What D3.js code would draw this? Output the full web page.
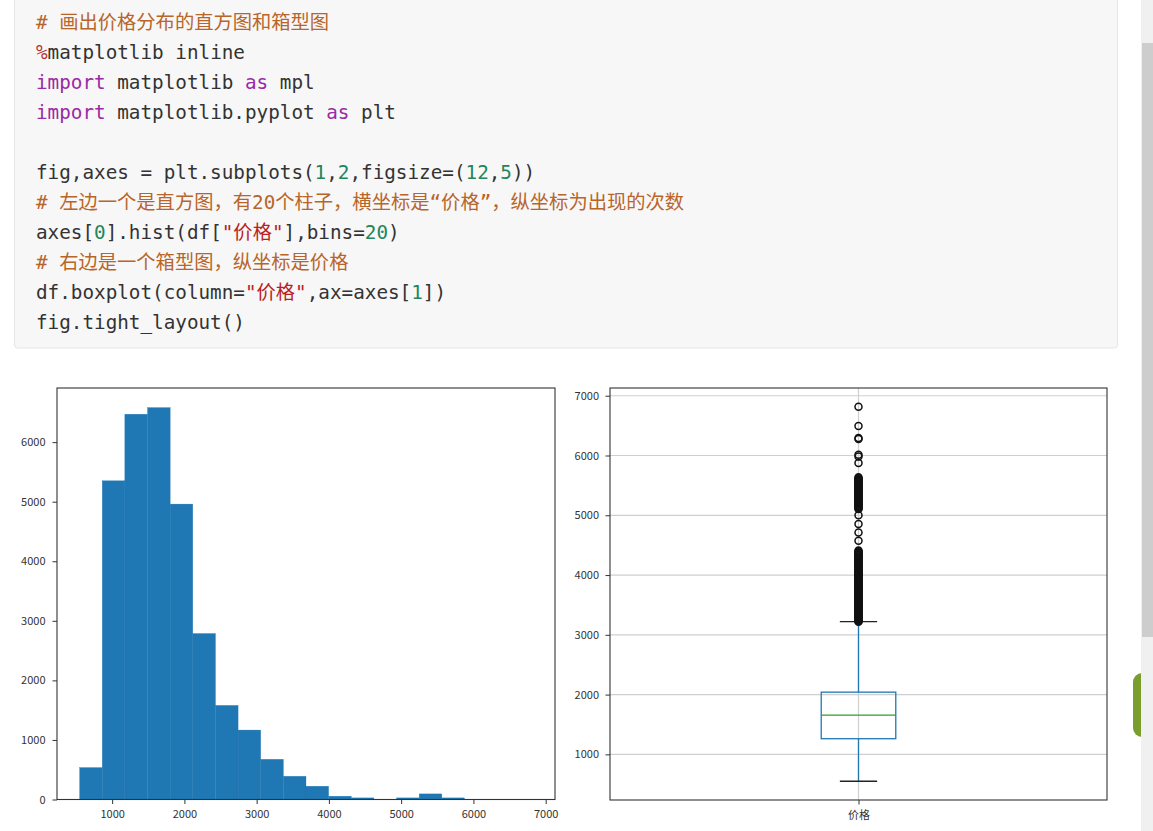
<!DOCTYPE html>
<html>
<head>
<meta charset="utf-8">
<script src="https://cdn.jsdelivr.net/npm/d3@7"></script>
<style>
  body { margin: 0; background: #fff; overflow: hidden; }
  svg { display: block; }
  .code text { font-family: "DejaVu Sans Mono", "Noto Sans CJK SC", monospace; font-size: 19.3px; white-space: pre; }
  .tick text { font-family: "Noto Sans CJK SC", "Liberation Sans", sans-serif; font-size: 11px; fill: #333; }
</style>
</head>
<body>
<script>
'use strict';

// histogram: 20 bins of 价格
const binEdges = [550, 863, 1176, 1490, 1803, 2116, 2430, 2743, 3056, 3370, 3683,
                  3996, 4310, 4623, 4936, 5250, 5563, 5876, 6189, 6503, 6816];
const binCounts = [536, 5351, 6469, 6580, 4960, 2787, 1580, 1166, 675, 390,
                   223, 55, 27, 0, 27, 94, 27, 3, 4, 2];
const histXTicks = [1000, 2000, 3000, 4000, 5000, 6000, 7000];
const histYTicks = [0, 1000, 2000, 3000, 4000, 5000, 6000];

// box plot of 价格
const boxLabel = "价格";
const boxQuartiles = [1262, 1657, 2041];   // q1, median, q3
const boxWhiskers = [550, 3220];           // low, high
const boxOutliers = [6816, 6494, 6293, 6275, 6014, 5985, 5875,
  5635, 5621, 5604, 5590, 5577, 5562, 5548, 5531, 5519, 5503, 5490, 5476, 5461, 5447, 5432, 5418, 5404, 5389,
  5375, 5362, 5347, 5333, 5318, 5305, 5290, 5276, 5262, 5247, 5233, 5219, 5204, 5190, 5176, 5161, 5147, 5133, 5119, 5107,
  5000, 4856, 4711, 4572,
  4410, 4397, 4383, 4368, 4355, 4340, 4327, 4312, 4298, 4284, 4270, 4256, 4241, 4228, 4213, 4199, 4186, 4171, 4157, 4143,
  4129, 4115, 4101, 4086, 4073, 4058, 4044, 4031, 4016, 4002, 3988, 3974, 3960, 3946, 3932, 3918, 3903, 3890, 3875, 3862,
  3847, 3834, 3819, 3806, 3791, 3777, 3763, 3749, 3735, 3721, 3707, 3692, 3679, 3664, 3651, 3636, 3622, 3608, 3594, 3580,
  3566, 3552, 3538, 3523, 3510, 3495, 3482, 3467, 3453, 3439, 3425, 3411, 3397, 3383, 3369, 3354, 3341, 3326, 3312, 3298,
  3284, 3270, 3256, 3242, 3229, 3218];
const boxYTicks = [1000, 2000, 3000, 4000, 5000, 6000, 7000];

// notebook code cell, one array of [text, kind] tokens per line
const codeLines = [
  [["# 画出价格分布的直方图和箱型图", "c"]],
  [["%", "m"], ["matplotlib inline", "t"]],
  [["import", "k"], [" matplotlib ", "t"], ["as", "k"], [" mpl", "t"]],
  [["import", "k"], [" matplotlib.pyplot ", "t"], ["as", "k"], [" plt", "t"]],
  [],
  [["fig,axes = plt.subplots(", "t"], ["1", "n"], [",", "t"], ["2", "n"], [",figsize=(", "t"], ["12", "n"], [",", "t"], ["5", "n"], ["))", "t"]],
  [["# 左边一个是直方图，有20个柱子，横坐标是“价格”，纵坐标为出现的次数", "c"]],
  [["axes[", "t"], ["0", "n"], ["].hist(df[", "t"], ["\"价格\"", "s"], ["],bins=", "t"], ["20", "n"], [")", "t"]],
  [["# 右边是一个箱型图，纵坐标是价格", "c"]],
  [["df.boxplot(column=", "t"], ["\"价格\"", "s"], [",ax=axes[", "t"], ["1", "n"], ["])", "t"]],
  [["fig.tight_layout()", "t"]]
];
const tokenColors = { c: "#b8652a", m: "#b83228", k: "#9a2aa6", n: "#22865a", s: "#ba2121", t: "#333" };

const svg = d3.select("body").append("svg")
  .attr("width", 1153)
  .attr("height", 831);

// ---- code cell ----
const code = svg.append("g").attr("class", "code");
code.append("rect")
  .attr("x", 14.5).attr("y", -6)
  .attr("width", 1103).attr("height", 354)
  .attr("rx", 3)
  .attr("fill", "#f7f7f7")
  .attr("stroke", "#e6e6e6");

codeLines.forEach((line, i) => {
  let t = code.append("text")
    .attr("x", 36)
    .attr("y", 29 + 30 * i);
  line.forEach((tok) => {
    t.append("tspan").attr("fill", tokenColors[tok[1]]).text(tok[0]);
  });
});

// ---- scrollbar and floating button at right edge ----
svg.append("rect")
  .attr("x", 1133).attr("y", 673).attr("width", 24).attr("height", 64)
  .attr("rx", 9).attr("fill", "#7a9e2e");
svg.append("rect")
  .attr("x", 1141).attr("y", 0).attr("width", 12).attr("height", 831)
  .attr("fill", "#f0f0f0");
svg.append("rect")
  .attr("x", 1142).attr("y", 43).attr("width", 11).attr("height", 594)
  .attr("fill", "#cdcdcd");

// ---- shared helpers ----
function styleAxis(g) {
  g.select(".domain").remove();
  g.selectAll(".tick line").attr("stroke", "#333").attr("stroke-width", 1);
}

function drawFrame(box) {
  svg.append("rect")
    .attr("x", box.x0).attr("y", box.y0)
    .attr("width", box.x1 - box.x0).attr("height", box.y1 - box.y0)
    .attr("fill", "none")
    .attr("stroke", "#333")
    .attr("stroke-width", 1.1);
}

// ---- histogram ----
const hBox = { x0: 57, x1: 555, y0: 388, y1: 799.5 };
const dataMin = d3.min(binEdges), dataMax = d3.max(binEdges);
const pad = (dataMax - dataMin) * 0.05;

const hx = d3.scaleLinear()
  .domain([dataMin - pad, dataMax + pad])
  .range([hBox.x0, hBox.x1]);
const hy = d3.scaleLinear()
  .domain([0, d3.max(binCounts) * 1.05])
  .range([hBox.y1, hBox.y0]);

svg.append("g").selectAll("rect")
  .data(binCounts)
  .enter()
  .append("rect")
    .attr("x", (d, i) => hx(binEdges[i]))
    .attr("width", (d, i) => hx(binEdges[i + 1]) - hx(binEdges[i]))
    .attr("y", (d) => hy(d))
    .attr("height", (d) => hy(0) - hy(d))
    .attr("fill", "#1f77b4")
    .attr("stroke", "#1f77b4")
    .attr("stroke-width", 0.3);

svg.append("g")
  .attr("transform", `translate(0, ${hBox.y1})`)
  .call(d3.axisBottom(hx).tickValues(histXTicks).tickSize(4.5).tickPadding(6.5).tickFormat(d3.format("d")))
  .call(styleAxis);
svg.append("g")
  .attr("transform", `translate(${hBox.x0}, 0)`)
  .call(d3.axisLeft(hy).tickValues(histYTicks).tickSize(4.5).tickPadding(7).tickFormat(d3.format("d")))
  .call(styleAxis);
drawFrame(hBox);

// ---- box plot ----
const bBox = { x0: 610, x1: 1107, y0: 388, y1: 800 };
const allVals = boxWhiskers.concat(boxOutliers);
const bMin = d3.min(allVals), bMax = d3.max(allVals);
const bPad = (bMax - bMin) * 0.05;

const bx = d3.scaleLinear().domain([0.5, 1.5]).range([bBox.x0, bBox.x1]);
const by = d3.scaleLinear().domain([bMin - bPad, bMax + bPad]).range([bBox.y1, bBox.y0]);

// grid
const grid = svg.append("g");
grid.selectAll("line.h")
  .data(boxYTicks)
  .enter()
  .append("line")
    .attr("x1", bBox.x0).attr("x2", bBox.x1)
    .attr("y1", (d) => by(d)).attr("y2", (d) => by(d))
    .attr("stroke", "#cfcfcf").attr("stroke-width", 1.2);
grid.append("line")
  .attr("x1", bx(1)).attr("x2", bx(1))
  .attr("y1", bBox.y0).attr("y2", bBox.y1)
  .attr("stroke", "#cfcfcf").attr("stroke-width", 1.2);

svg.append("g")
  .attr("transform", `translate(${bBox.x0}, 0)`)
  .call(d3.axisLeft(by).tickValues(boxYTicks).tickSize(4.5).tickPadding(6.5).tickFormat(d3.format("d")))
  .call(styleAxis);
svg.append("g")
  .attr("transform", `translate(0, ${bBox.y1})`)
  .call(d3.axisBottom(bx).tickValues([1]).tickSize(4.5).tickPadding(6.5).tickFormat(() => boxLabel))
  .call(styleAxis);

const boxW = 0.15;
const bp = svg.append("g");
// whiskers
bp.append("line")
  .attr("x1", bx(1)).attr("x2", bx(1))
  .attr("y1", by(boxQuartiles[2])).attr("y2", by(boxWhiskers[1]))
  .attr("stroke", "#1f77b4").attr("stroke-width", 1.3);
bp.append("line")
  .attr("x1", bx(1)).attr("x2", bx(1))
  .attr("y1", by(boxQuartiles[0])).attr("y2", by(boxWhiskers[0]))
  .attr("stroke", "#1f77b4").attr("stroke-width", 1.3);
// caps
bp.selectAll("line.cap")
  .data(boxWhiskers)
  .enter()
  .append("line")
    .attr("x1", bx(1 - boxW / 4)).attr("x2", bx(1 + boxW / 4))
    .attr("y1", (d) => by(d)).attr("y2", (d) => by(d))
    .attr("stroke", "#222").attr("stroke-width", 1.3);
// box
bp.append("rect")
  .attr("x", bx(1 - boxW / 2))
  .attr("width", bx(1 + boxW / 2) - bx(1 - boxW / 2))
  .attr("y", by(boxQuartiles[2]))
  .attr("height", by(boxQuartiles[0]) - by(boxQuartiles[2]))
  .attr("fill", "none")
  .attr("stroke", "#1f77b4").attr("stroke-width", 1.3);
// median
bp.append("line")
  .attr("x1", bx(1 - boxW / 2)).attr("x2", bx(1 + boxW / 2))
  .attr("y1", by(boxQuartiles[1])).attr("y2", by(boxQuartiles[1]))
  .attr("stroke", "#2ca02c").attr("stroke-width", 1.3);
// fliers
bp.selectAll("circle")
  .data(boxOutliers)
  .enter()
  .append("circle")
    .attr("cx", bx(1))
    .attr("cy", (d) => by(d))
    .attr("r", 3.5)
    .attr("fill", "none")
    .attr("stroke", "#111")
    .attr("stroke-width", 1.5);

drawFrame(bBox);
</script>
</body>
</html>
